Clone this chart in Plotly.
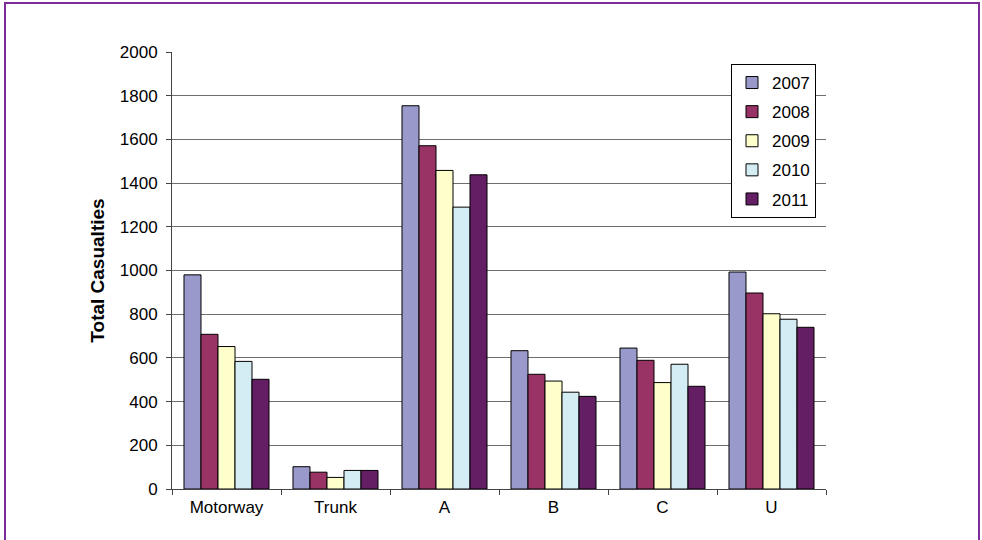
import plotly.graph_objects as go

categories = ["Motorway", "Trunk", "A", "B", "C", "U"]
years = ["2007", "2008", "2009", "2010", "2011"]
v2007 = [980, 102, 1754, 633, 645, 993]
v2008 = [708, 77, 1571, 525, 589, 897]
v2009 = [652, 53, 1458, 494, 487, 802]
v2010 = [584, 85, 1290, 443, 571, 777]
v2011 = [502, 85, 1438, 424, 470, 740]
series = [v2007, v2008, v2009, v2010, v2011]
colors = ["#9999CC", "#993366", "#FFFFCC", "#D4ECF4", "#641E64"]

fig = go.Figure()
for y, vals, c in zip(years, series, colors):
    fig.add_trace(go.Bar(
        x=categories, y=vals, name=y, legendgroup=y,
        marker=dict(color=c, line=dict(color="#000000", width=1)),
    ))

L, R, T, B = 172, 156, 52, 51
W, H = 982, 540
pw, ph = W - L - R, H - T - B

def px(x):
    return (x - L) / pw

def py(y):
    return (H - B - y) / ph

fig.add_shape(type="rect", xref="paper", yref="paper",
              x0=px(5), x1=px(979), y0=py(560), y1=py(3),
              line=dict(color="#7B2C9A", width=2), layer="below")

FS = 17
fig.update_layout(
    width=W, height=H,
    margin=dict(l=L, r=R, t=T, b=B),
    paper_bgcolor="white", plot_bgcolor="white",
    font=dict(family="Liberation Sans, Arial", size=FS, color="#000"),
    barmode="group", bargap=0.22, bargroupgap=0,
    showlegend=True,
    legend=dict(x=px(731), y=py(64), xanchor="left", yanchor="top",
                bgcolor="white", bordercolor="#000", borderwidth=1,
                font=dict(size=FS), tracegroupgap=4, traceorder="grouped",
                itemwidth=30),
    xaxis=dict(type="category", showline=True, linecolor="#444", linewidth=1,
               ticks="outside", tickson="boundaries", ticklen=5, tickcolor="#444",
               showgrid=False, tickfont=dict(size=FS), ticklabelstandoff=3),
    yaxis=dict(range=[0, 2000], dtick=200, showline=True, linecolor="#444", linewidth=1,
               ticks="outside", ticklen=5, tickcolor="#444",
               showgrid=True, gridcolor="#6e6e6e", gridwidth=1,
               zeroline=False, tickfont=dict(size=FS), ticklabelstandoff=5,
               title=dict(text="<b>Total Casualties</b>", font=dict(size=19), standoff=10)),
)

fig.write_html("out.html")
